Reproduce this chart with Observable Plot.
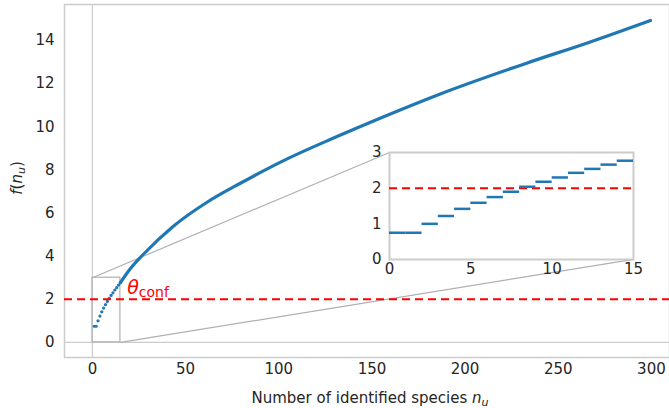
<!DOCTYPE html>
<html><head><meta charset="utf-8">
<script src="https://cdn.jsdelivr.net/npm/d3@7"></script>
<script src="https://cdn.jsdelivr.net/npm/@observablehq/plot@0.6"></script>
<style>
body{margin:0;background:#fff;font-family:"DejaVu Sans",sans-serif}
#wrap{position:relative;width:669px;height:408px}
#inset{position:absolute;left:354px;top:142px}
</style></head><body>
<div id="wrap"><div id="main"></div><div id="inset"></div></div>
<script>
// first species counts
var smallN = [1,2,3,4,5,6,7,8,9,10,11,12,13,14,15]
var smallF = [0.75,0.75,1.0,1.22,1.42,1.59,1.75,1.9,2.04,2.18,2.30,2.43,2.54,2.66,2.77]
// rest of the curve, read at sample points
var bigN = [15,20,27.5,43.6,61.5,79.4,104.5,130,155,186,233,266,299.5]
var bigF = [2.77,3.38,4.1,5.4,6.5,7.38,8.51,9.5,10.42,11.5,12.95,13.9,14.93]
var thetaConf = 2

var small = smallN.map((n, i) => ({n: n, f: smallF[i]}))
var big = bigN.map((n, i) => ({n: n, f: bigF[i]}))
var blue = "#1f77b4", grey = "#b0b0b0"

var chart = Plot.plot({
  width: 669, height: 408,
  marginLeft: 64, marginRight: 0, marginTop: 4, marginBottom: 51,
  style: {fontSize: "15px", fontFamily: "DejaVu Sans", color: "#262626"},
  x: {domain: [-15, 309.7], ticks: [0,50,100,150,200,250,300], tickSize: 0, label: null, tickPadding: 6},
  y: {domain: [-0.7, 15.67], ticks: [0,2,4,6,8,10,12,14], tickSize: 0, label: null, tickPadding: 10},
  marks: [
    Plot.ruleX([0], {stroke: "#ccc", strokeWidth: 1.2}),
    Plot.ruleY([0], {stroke: "#ccc", strokeWidth: 1.2}),
    Plot.frame({stroke: "#ccc", strokeWidth: 1.5}),
    Plot.rect([{x1: 0, x2: 15, y1: 0, y2: 3}], {x1: "x1", x2: "x2", y1: "y1", y2: "y2", fill: "none", stroke: grey, strokeWidth: 1.2}),
    Plot.link([{x1: 0, y1: 3, x2: 159.4, y2: 8.81}, {x1: 15, y1: 0, x2: 290.4, y2: 3.85}],
      {x1: "x1", y1: "y1", x2: "x2", y2: "y2", stroke: grey, strokeWidth: 1.2}),
    Plot.line(big, {x: "n", y: "f", stroke: blue, strokeWidth: 3.2, curve: "monotone-x"}),
    Plot.dot(small, {x: "n", y: "f", r: 1.6, fill: blue}),
    Plot.ruleY([thetaConf], {stroke: "red", strokeWidth: 2, strokeDasharray: "8,5"})
  ]
})
document.getElementById("main").append(chart)

var svg = d3.select(chart)
var t = svg.append("text").attr("x", 148).attr("y", 294).attr("fill", "red").attr("font-size", 19)
t.append("tspan").text("θ").attr("font-style", "italic")
t.append("tspan").text("conf").attr("font-size", 14).attr("dy", 3)
var xl = svg.append("text").attr("x", 370).attr("y", 403).attr("text-anchor", "middle").attr("font-size", 15).attr("fill", "#262626")
xl.append("tspan").text("Number of identified species ")
xl.append("tspan").text("n").attr("font-style", "italic")
xl.append("tspan").text("u").attr("font-style", "italic").attr("font-size", 11).attr("dy", 3)
var yl = svg.append("text").attr("transform", "translate(22,178) rotate(-90)").attr("text-anchor", "middle").attr("font-size", 15).attr("fill", "#262626")
yl.append("tspan").text("f").attr("font-style", "italic")
yl.append("tspan").text("(")
yl.append("tspan").text("n").attr("font-style", "italic")
yl.append("tspan").text("u").attr("font-style", "italic").attr("font-size", 11).attr("dy", 3)
yl.append("tspan").text(")").attr("dy", -3)

var inset = Plot.plot({
  width: 300, height: 147,
  marginLeft: 35, marginRight: 21, marginTop: 10, marginBottom: 30,
  style: {fontSize: "15px", fontFamily: "DejaVu Sans", color: "#262626", background: "transparent", overflow: "visible"},
  x: {domain: [0, 15], ticks: [0,5,10,15], tickFormat: "d", tickSize: 0, label: null, tickPadding: 4},
  y: {domain: [0, 3], ticks: [0,1,2,3], tickFormat: "d", tickSize: 0, label: null, tickPadding: 8},
  marks: [
    Plot.frame({fill: "white", stroke: "#ccc", strokeWidth: 2}),
    Plot.ruleY([thetaConf], {stroke: "red", strokeWidth: 2, strokeDasharray: "8,5"}),
    Plot.ruleY(small, {x1: d => d.n - 1, x2: d => d.n, y: "f", stroke: blue, strokeWidth: 2.5})
  ]
})
document.getElementById("inset").append(inset)
</script></body></html>
